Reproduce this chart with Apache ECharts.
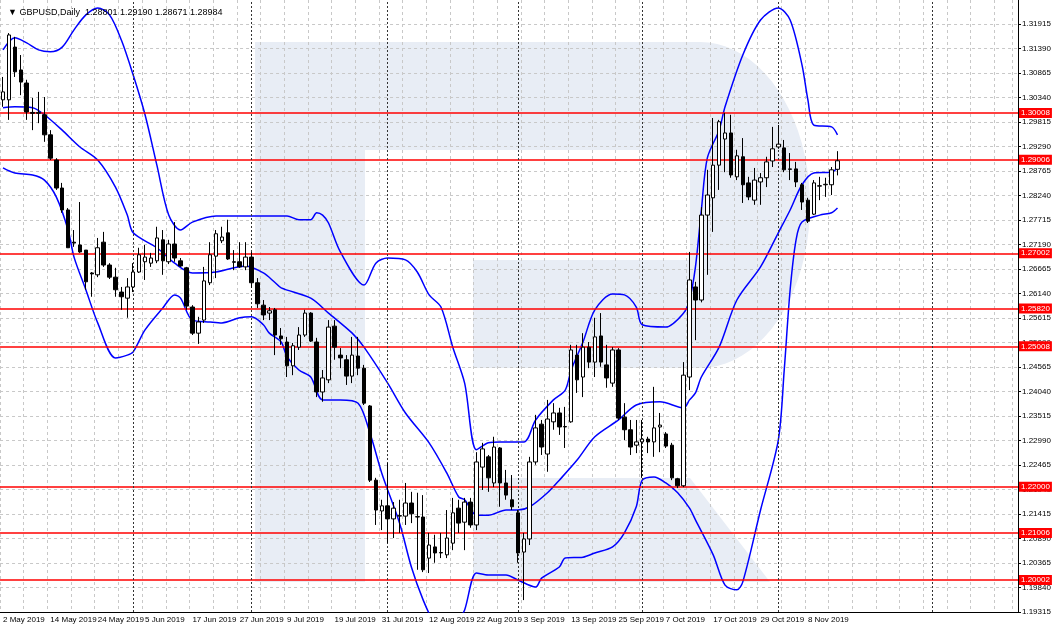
<!DOCTYPE html>
<html><head><meta charset="utf-8">
<script src="https://cdn.jsdelivr.net/npm/echarts@6.0.0/dist/echarts.min.js"></script>
<style>html,body{margin:0;padding:0;background:#fff}#c{width:1054px;height:630px}</style>
</head><body><div id="c"></div>
<script>
// OHLC: [open, close, low, high]
const candles = [
[1.3029,1.3046,1.3014,1.3078],[1.3029,1.3168,1.2986,1.3172],[1.3142,1.3089,1.3078,1.3164],[1.3093,1.3067,1.3039,1.3125],
[1.3065,1.3003,1.2986,1.3072],[1.3002,1.3000,1.2964,1.3033],[1.3000,1.3002,1.2979,1.3046],[1.2997,1.2954,1.2939,1.3035],
[1.2954,1.2904,1.2900,1.2964],[1.2900,1.2840,1.2836,1.2904],[1.2840,1.2793,1.2787,1.2851],[1.2793,1.2712,1.2712,1.2797],
[1.2724,1.2722,1.2714,1.2750],[1.2718,1.2703,1.2701,1.2810],[1.2707,1.2639,1.2622,1.2707],[1.2658,1.2656,1.2607,1.2660],
[1.2654,1.2712,1.2649,1.2733],[1.2724,1.2675,1.2671,1.2746],[1.2675,1.2649,1.2645,1.2679],[1.2649,1.2622,1.2607,1.2669],
[1.2617,1.2607,1.2579,1.2628],[1.2604,1.2628,1.2562,1.2647],[1.2628,1.2660,1.2617,1.2679],[1.2660,1.2697,1.2658,1.2712],
[1.2682,1.2692,1.2643,1.2718],[1.2679,1.2690,1.2671,1.2701],[1.2684,1.2733,1.2679,1.2757],[1.2729,1.2684,1.2654,1.2750],
[1.2682,1.2720,1.2677,1.2729],[1.2720,1.2690,1.2682,1.2767],[1.2684,1.2673,1.2671,1.2690],[1.2669,1.2587,1.2579,1.2671],
[1.2585,1.2529,1.2525,1.2589],[1.2529,1.2553,1.2506,1.2564],[1.2557,1.2641,1.2551,1.2671],[1.2637,1.2697,1.2632,1.2724],
[1.2694,1.2742,1.2647,1.2750],[1.2727,1.2735,1.2722,1.2757],[1.2744,1.2688,1.2686,1.2772],[1.2682,1.2681,1.2664,1.2707],
[1.2682,1.2671,1.2669,1.2724],[1.2671,1.2692,1.2664,1.2724],[1.2692,1.2637,1.2626,1.2703],[1.2637,1.2592,1.2583,1.2647],
[1.2589,1.2568,1.2557,1.2600],[1.2572,1.2577,1.2557,1.2585],[1.2579,1.2525,1.2482,1.2583],[1.2523,1.2517,1.2504,1.2540],
[1.2510,1.2459,1.2435,1.2521],[1.2459,1.2502,1.2439,1.2508],[1.2499,1.2525,1.2493,1.2542],[1.2525,1.2572,1.2521,1.2579],
[1.2572,1.2512,1.2510,1.2574],[1.2510,1.2403,1.2392,1.2519],[1.2403,1.2433,1.2382,1.2450],[1.2429,1.2542,1.2422,1.2557],
[1.2544,1.2499,1.2472,1.2557],[1.2482,1.2476,1.2454,1.2497],[1.2472,1.2437,1.2418,1.2482],[1.2437,1.2482,1.2422,1.2521],
[1.2480,1.2454,1.2439,1.2521],[1.2454,1.2379,1.2375,1.2461],[1.2373,1.2214,1.2210,1.2375],[1.2214,1.2150,1.2118,1.2219],
[1.2148,1.2159,1.2107,1.2172],[1.2159,1.2131,1.2079,1.2251],[1.2131,1.2154,1.2090,1.2167],[1.2137,1.2138,1.2101,1.2172],
[1.2137,1.2165,1.2118,1.2208],[1.2165,1.2142,1.2122,1.2189],[1.2135,1.2136,1.2022,1.2187],[1.2135,1.2022,1.2017,1.2182],
[1.2047,1.2075,1.2015,1.2101],[1.2071,1.2058,1.2037,1.2097],[1.2058,1.2059,1.2047,1.2101],[1.2054,1.2090,1.2047,1.2150],
[1.2079,1.2144,1.2064,1.2176],[1.2154,1.2122,1.2101,1.2172],[1.2124,1.2167,1.2064,1.2176],[1.2167,1.2118,1.2112,1.2176],
[1.2118,1.2253,1.2107,1.2274],[1.2242,1.2281,1.2193,1.2294],[1.2264,1.2219,1.2189,1.2268],[1.2208,1.2285,1.2199,1.2307],
[1.2283,1.2208,1.2157,1.2285],[1.2208,1.2182,1.2172,1.2236],[1.2172,1.2157,1.2150,1.2225],[1.2144,1.2058,1.2037,1.2150],
[1.2060,1.2088,1.1957,1.2101],[1.2088,1.2253,1.2075,1.2264],[1.2253,1.2326,1.2247,1.2354],[1.2334,1.2285,1.2268,1.2343],
[1.2270,1.2345,1.2232,1.2386],[1.2339,1.2358,1.2322,1.2379],[1.2358,1.2328,1.2311,1.2369],[1.2328,1.2329,1.2283,1.2371],
[1.2339,1.2493,1.2337,1.2504],[1.2482,1.2429,1.2401,1.2504],[1.2435,1.2499,1.2392,1.2529],[1.2499,1.2467,1.2454,1.2510],
[1.2467,1.2521,1.2435,1.2562],[1.2523,1.2467,1.2457,1.2572],[1.2461,1.2433,1.2412,1.2504],[1.2422,1.2493,1.2414,1.2499],
[1.2493,1.2347,1.2343,1.2497],[1.2349,1.2322,1.2300,1.2379],[1.2322,1.2285,1.2268,1.2343],[1.2289,1.2296,1.2272,1.2343],
[1.2296,1.2302,1.2219,1.2343],[1.2302,1.2296,1.2272,1.2307],[1.2296,1.2326,1.2264,1.2414],[1.2328,1.2332,1.2274,1.2358],
[1.2313,1.2287,1.2283,1.2317],[1.2289,1.2219,1.2214,1.2294],[1.2217,1.2202,1.2197,1.2219],[1.2202,1.2439,1.2199,1.2467],
[1.2435,1.2643,1.2407,1.2703],[1.2628,1.2600,1.2514,1.2639],[1.2600,1.2782,1.2595,1.2799],[1.2782,1.2825,1.2654,1.2879],
[1.2819,1.2889,1.2746,1.2990],[1.2889,1.2982,1.2836,1.2986],[1.2945,1.2958,1.2874,1.3001],[1.2958,1.2868,1.2862,1.2997],
[1.2864,1.2909,1.2857,1.2922],[1.2907,1.2847,1.2808,1.2947],[1.2851,1.2821,1.2814,1.2864],[1.2814,1.2857,1.2804,1.2883],
[1.2853,1.2862,1.2804,1.2872],[1.2862,1.2896,1.2842,1.2907],[1.2898,1.2924,1.2885,1.2971],[1.2928,1.2934,1.2924,1.2975],
[1.2926,1.2879,1.2874,1.2943],[1.2881,1.2880,1.2857,1.2915],[1.2881,1.2853,1.2842,1.2896],[1.2847,1.2810,1.2793,1.2851],
[1.2814,1.2769,1.2765,1.2819],[1.2784,1.2851,1.2782,1.2857],[1.2844,1.2845,1.2814,1.2864],[1.2847,1.2848,1.2821,1.2862],
[1.2847,1.2879,1.2825,1.2885],[1.28801,1.28984,1.28671,1.29190]
];
// Bollinger bands: [barIndex, value]
const upperBand = [[0,1.3136],[2,1.3162],[4,1.3151],[6,1.3136],[8,1.3132],[10,1.3142],[12,1.3179],[14,1.3211],[16,1.3226],[18,1.3211],[20,1.3157],[22,1.3082],[24,1.2997],[26,1.2889],[28,1.2782],[30,1.2750],[32,1.2767],[36,1.2780],[40,1.2780],[44,1.2780],[48,1.2780],[50,1.2772],[52,1.2772],[53,1.2787],[54,1.2782],[55,1.2765],[57,1.2703],[61,1.2632],[63,1.2679],[65,1.2690],[68,1.2686],[70,1.2660],[72,1.2611],[74,1.2585],[76,1.2499],[78,1.2422],[80,1.2279],[82,1.2294],[84,1.2296],[88,1.2296],[90,1.2343],[93,1.2386],[95,1.2407],[96,1.2450],[98,1.2510],[100,1.2579],[103,1.2613],[105,1.2611],[107,1.2585],[108,1.2547],[112,1.2542],[115,1.2572],[116,1.2600],[117,1.2671],[118,1.2793],[119,1.2904],[121,1.2964],[122,1.3014],[125,1.3125],[128,1.3200],[131,1.3226],[133,1.3200],[135,1.3104],[136,1.3029],[137,1.2975],[140,1.2971],[141,1.2954]];
const middleBand = [[0,1.3012],[2,1.3014],[5,1.3012],[7,1.2997],[10,1.2964],[13,1.2928],[16,1.2900],[19,1.2842],[21,1.2782],[22,1.2744],[26,1.2712],[29,1.2679],[32,1.2658],[36,1.2660],[39,1.2669],[41,1.2673],[44,1.2658],[46,1.2637],[47,1.2626],[52,1.2604],[55,1.2572],[59,1.2529],[61,1.2499],[65,1.2422],[68,1.2358],[72,1.2294],[75,1.2229],[77,1.2178],[78,1.2172],[80,1.2139],[82,1.2139],[85,1.2150],[87,1.2150],[89,1.2157],[92,1.2187],[94,1.2214],[97,1.2257],[100,1.2307],[104,1.2343],[107,1.2375],[111,1.2382],[115,1.2369],[116,1.2386],[117,1.2401],[118,1.2435],[121,1.2499],[124,1.2600],[128,1.2671],[131,1.2744],[133,1.2793],[135,1.2847],[137,1.2872],[140,1.2874],[141,1.2883]];
const lowerBand = [[0,1.2883],[2,1.2872],[5,1.2868],[7,1.2857],[9,1.2821],[11,1.2750],[12,1.2692],[14,1.2622],[16,1.2551],[19,1.2476],[21,1.2482],[22,1.2489],[24,1.2536],[27,1.2583],[29,1.2611],[30,1.2604],[32,1.2557],[35,1.2553],[37,1.2551],[40,1.2562],[42,1.2564],[44,1.2547],[45,1.2529],[47,1.2510],[48,1.2478],[50,1.2450],[52,1.2435],[54,1.2386],[57,1.2386],[60,1.2379],[62,1.2315],[64,1.2229],[67,1.2122],[69,1.2028],[71,1.1957],[73,1.1904],[75,1.1872],[77,1.1914],[78,1.1936],[80,1.2015],[82,1.2011],[85,1.2011],[87,1.2000],[90,1.1985],[91,1.2004],[94,1.2028],[95,1.2047],[98,1.2049],[100,1.2058],[103,1.2071],[105,1.2101],[107,1.2157],[108,1.2214],[110,1.2221],[112,1.2208],[114,1.2187],[116,1.2154],[117,1.2129],[120,1.2054],[122,1.1989],[124,1.1979],[125,1.1996],[128,1.2150],[131,1.2300],[132,1.2450],[133,1.2622],[134,1.2729],[135,1.2767],[138,1.2782],[140,1.2787],[141,1.2797]];
const levels = [1.30008,1.29006,1.27002,1.25820,1.25008,1.22000,1.21006,1.20002];
const yTicks = [1.19315,1.19840,1.20365,1.20890,1.21415,1.21940,1.22465,1.22990,1.23515,1.24040,1.24565,1.25090,1.25615,1.26140,1.26665,1.27190,1.27715,1.28240,1.28765,1.29290,1.29815,1.30340,1.30865,1.31390,1.31915];
const tickLabels = ['2 May 2019','14 May 2019','24 May 2019','5 Jun 2019','17 Jun 2019','27 Jun 2019','9 Jul 2019','19 Jul 2019','31 Jul 2019','12 Aug 2019','22 Aug 2019','3 Sep 2019','13 Sep 2019','25 Sep 2019','7 Oct 2019','17 Oct 2019','29 Oct 2019','8 Nov 2019'];
const separators = [22,42,65,87,108,131,157];
const totalSlots = 172;

const cats = [];
for (let i = 0; i < totalSlots; i++) cats.push(String(i));

// watermark outline (pure decoration)
const logoPts = [[255,42],[700,42]];
for (let k = 1; k < 40; k++) { const a = -Math.PI/2 + Math.PI * k / 40; logoPts.push([700 + 110*Math.cos(a), 205 + 163*Math.sin(a)]); }
logoPts.push([700,368],[473,368],[473,260],[690,260],[690,150],[365,150],[365,582],[255,582]);

const chart = echarts.init(document.getElementById('c'));
const shade = '#e8edf5';
chart.setOption({
  animation: false,
  backgroundColor: '#fff',
  title: {text: '\u25BC GBPUSD,Daily  1.28801 1.29190 1.28671 1.28984', left: 3, top: 3,
    textStyle: {fontSize: 9, fontWeight: 'normal', color: '#000', fontFamily: 'Liberation Sans'}},
  graphic: [
    {type: 'polygon', z: -10, silent: true, shape: {points: logoPts}, style: {fill: shade}},
    {type: 'polygon', z: -10, silent: true, shape: {points: [[473,478],[690,478],[770,582],[473,582]]}, style: {fill: shade}}
  ],
  grid: {left: 0, right: 36, top: 0, bottom: 18, show: false},
  xAxis: {type: 'category', data: cats, boundaryGap: true,
    axisLine: {lineStyle: {color: '#000'}},
    axisTick: {interval: function(i){return i % 8 === 0 && i <= 141;}, alignWithLabel: true, lineStyle: {color: '#000'}, length: 3},
    axisLabel: {interval: 0, margin: 4, fontSize: 8, color: '#000', align: 'left', fontFamily: 'Liberation Sans',
      formatter: function(v, i){ return (i % 8 === 0 && i/8 < tickLabels.length) ? tickLabels[i/8] : ''; }},
    splitLine: {show: true, interval: 3, lineStyle: {color: '#c8c8c8', type: [3,3]}}},
  yAxis: {type: 'value', position: 'right', min: 1.19315, max: 1.32429,
    axisLine: {show: true, lineStyle: {color: '#000'}},
    axisTick: {show: true, customValues: yTicks, length: 3, lineStyle: {color: '#000'}},
    axisLabel: {customValues: yTicks, fontSize: 8, color: '#000', margin: 4, fontFamily: 'Liberation Sans',
      formatter: function(v){ return v.toFixed(5); }},
    splitLine: {show: true, lineStyle: {color: '#c8c8c8', type: [3,3]}}},
  series: [
    {type: 'candlestick', data: candles, barWidth: 4, z: 5,
      itemStyle: {color: '#ffffff', color0: '#000000', borderColor: '#000000', borderColor0: '#000000', borderWidth: 1},
      markLine: {symbol: 'none', silent: true, animation: false, precision: 5,
        lineStyle: {color: '#ff0000', width: 1.5, type: 'solid'},
        label: {position: 'end', distance: 1, formatter: function(p){return p.name;},
          backgroundColor: '#ff0000', color: '#fff', fontSize: 8, padding: [1,2], fontFamily: 'Liberation Sans'},
        data: levels.map(function(v){return {yAxis: v, name: v.toFixed(5)};})}},
    {type: 'line', data: upperBand, smooth: 0.3, showSymbol: false, z: 4, lineStyle: {color: '#0000ff', width: 1.5}},
    {type: 'line', data: middleBand, smooth: 0.3, showSymbol: false, z: 4, lineStyle: {color: '#0000ff', width: 1.5},
      markLine: {symbol: 'none', silent: true, label: {show: false},
        lineStyle: {color: '#333', width: 1, type: [2,2]},
        data: separators.map(function(i){return {xAxis: i};})}},
    {type: 'line', data: lowerBand, smooth: 0.3, showSymbol: false, z: 4, lineStyle: {color: '#0000ff', width: 1.5}}
  ]
});
</script></body></html>
